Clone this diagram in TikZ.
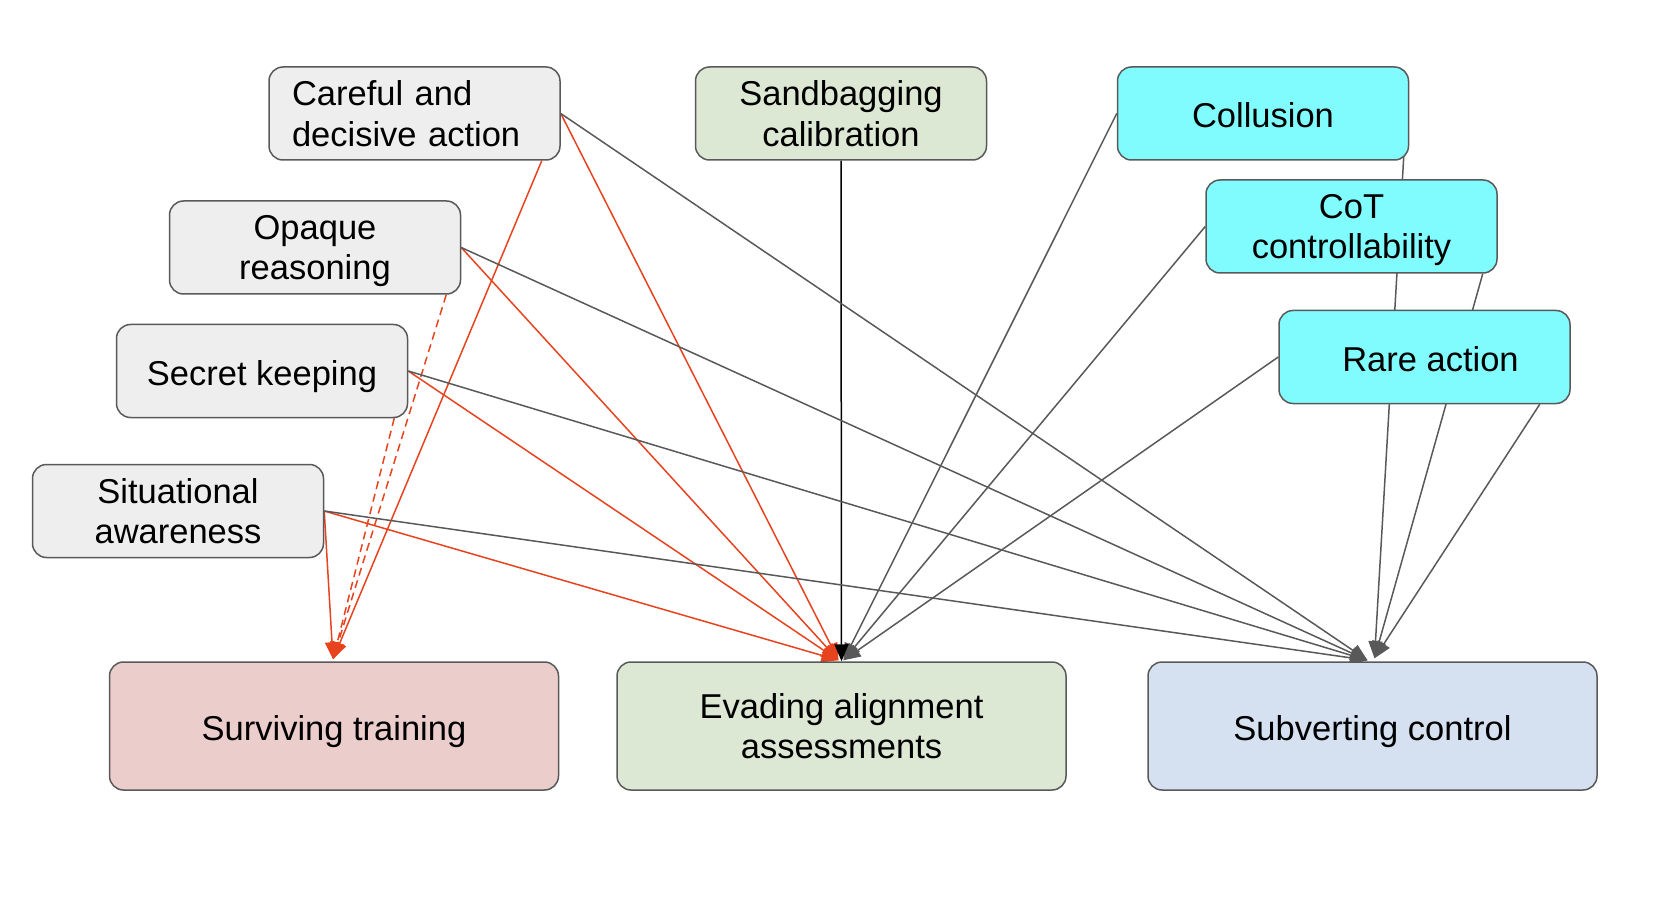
\documentclass[tikz,border=0pt]{standalone}
\usepackage{fontspec}
\setmainfont{Liberation Sans}
\usetikzlibrary{arrows.meta,calc,backgrounds}
\definecolor{boxgray}{HTML}{EEEEEE}
\definecolor{boxgreen}{HTML}{DCE8D4}
\definecolor{boxcyan}{HTML}{80FCFF}
\definecolor{boxpink}{HTML}{EBCDCC}
\definecolor{boxblue}{HTML}{D5E0F1}
\definecolor{edgegray}{HTML}{595959}
\definecolor{edgered}{HTML}{E8431F}
\tikzset{
  box/.style={draw=edgegray, line width=1.5pt, rounded corners=14pt, minimum width=291pt, minimum height=93pt, align=center, font=\fontsize{34.5}{40.5}\selectfont, inner sep=0pt},
  bigbox/.style={box, minimum width=449pt, minimum height=128pt},
  oneline/.style={text height=28pt, text depth=0pt},
  nodepth/.style={text depth=0pt},
  tipstyle/.style={-{Triangle[length=17pt,width=14pt]}},
  redarr/.style={draw=edgered, line width=1.5pt, tipstyle},
  reddash/.style={draw=edgered, line width=1.5pt, dash pattern=on 8pt off 5pt, tipstyle},
  grayarr/.style={draw=edgegray, line width=1.5pt, tipstyle},
  blackarr/.style={draw=black, line width=1.5pt, tipstyle}
}
\begin{document}
\begin{tikzpicture}[x=1pt,y=-1pt]
\useasboundingbox (0,0) rectangle (1663,901);
\node[box, fill=boxgray, align=left, text width=245pt] (careful) at (414.5,113.5) {Careful and\\decisive action};
\node[box, fill=boxgreen] (sandbag) at (841,113.5) {Sandbagging\\calibration};
\node[box, oneline, fill=boxcyan] (collusion) at (1263,113.5) {Collusion};
\node[box, nodepth, fill=boxgray] (opaque) at (315,247.5) {Opaque\\reasoning};
\node[box, nodepth, fill=boxcyan] (cot) at (1351.5,226.5) {CoT\\controllability};
\node[box, oneline, fill=boxgray] (secret) at (262,371) {Secret keeping};
\node[box, oneline, fill=boxcyan] (rare) at (1424.5,357) {\hspace{12pt}Rare action};
\node[box, fill=boxgray] (sit) at (178,511) {Situational\\awareness};
\node[bigbox, oneline, fill=boxpink] (surv) at (334,726) {Surviving training};
\node[bigbox, fill=boxgreen] (eva) at (841.5,726) {Evading alignment\\assessments};
\node[bigbox, oneline, fill=boxblue] (sub) at (1372.5,726) {Subverting control};
\coordinate (survtip) at ($(surv.north)+(-1,-2)$);
\coordinate (evared) at ($(eva.north)+(-3,-1)$);
\coordinate (evagray) at ($(eva.north)+(2,-1)$);
\coordinate (subleft) at ($(sub.north)+(-5,-1)$);
\coordinate (subtop) at ($(sub.north)+(2,-3)$);
\begin{pgfonlayer}{background}
% to surviving training
\draw[reddash] ($(opaque.south east)+(-15,0)$) -- (survtip);
\draw[reddash] ($(secret.south east)+(-14,0)$) -- (survtip);
\draw[redarr] ($(careful.south east)+(-19,0)$) -- (survtip);
\draw[redarr] (sit.east) -- (survtip);
% to evading
\draw[redarr] (careful.east) -- (evared);
\draw[redarr] (opaque.east) -- (evared);
\draw[redarr] (secret.east) -- (evared);
\draw[redarr] (sit.east) -- (evared);
\draw[grayarr] (collusion.west) -- (evagray);
\draw[grayarr] (cot.west) -- (evagray);
\draw[grayarr] (rare.west) -- (evagray);
\draw[blackarr] (sandbag.south) -- (eva.north);
% to subverting
\draw[grayarr] (careful.east) -- (subleft);
\draw[grayarr] (opaque.east) -- (subleft);
\draw[grayarr] (secret.east) -- (subleft);
\draw[grayarr] (sit.east) -- (subleft);
\draw[grayarr] ($(collusion.east)+(-3,0)$) -- (subtop);
\draw[grayarr] ($(cot.south east)+(-15,0)$) -- (subtop);
\draw[grayarr] ($(rare.south east)+(-31,0)$) -- (subtop);
\end{pgfonlayer}
\end{tikzpicture}
\end{document}
